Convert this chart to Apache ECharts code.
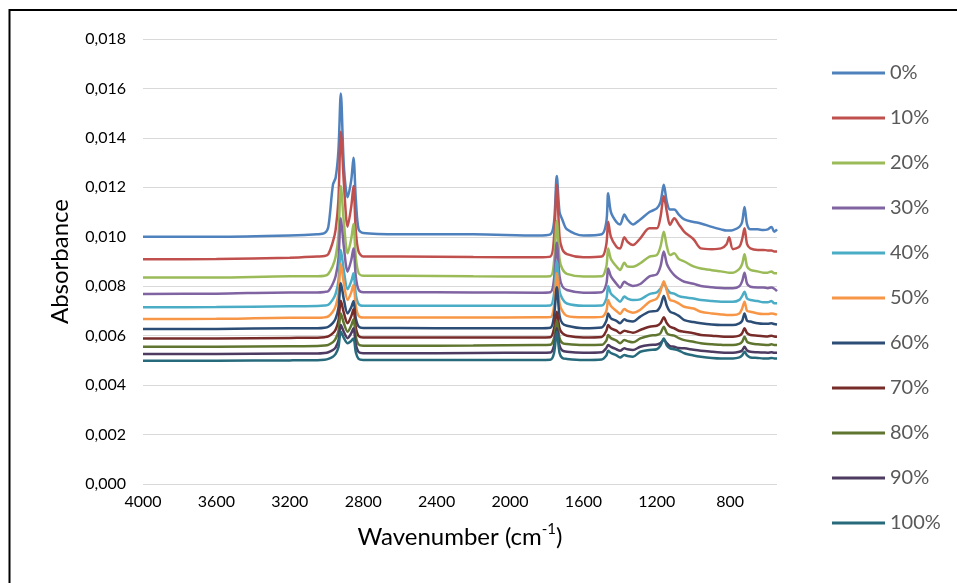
<!DOCTYPE html>
<html>
<head>
<meta charset="utf-8">
<script src="https://cdn.jsdelivr.net/npm/echarts@6/dist/echarts.min.js"></script>
<style>
html,body{margin:0;padding:0;background:#fff;}
#chart{width:957px;height:583px;}
</style>
</head>
<body>
<div id="chart"></div>
<script>
// Wavenumber grid (cm-1), shared by all spectra
var wavenumbers = [4000, 3600, 3200, 3050, 3010, 2990, 2965, 2950, 2935, 2922, 2905, 2885, 2865, 2853, 2840, 2825, 2800, 2600, 2200, 1850, 1780, 1760, 1745, 1730, 1715, 1690, 1600, 1500, 1475, 1465, 1450, 1420, 1400, 1377, 1360, 1330, 1290, 1240, 1200, 1180, 1162, 1145, 1128, 1105, 1080, 1050, 1000, 960, 900, 850, 820, 806, 785, 750, 735, 722, 708, 690, 650, 620, 595, 575, 560, 545];

var seriesNames = ['0%', '10%', '20%', '30%', '40%', '50%', '60%', '70%', '80%', '90%', '100%'];

var s0 = [0.01000, 0.01000, 0.01005, 0.0101, 0.01015, 0.0104, 0.0121, 0.0124, 0.0135, 0.0158, 0.0128, 0.0116, 0.0123, 0.0132, 0.0115, 0.0103, 0.01015, 0.0101, 0.0101, 0.01005, 0.0101, 0.0106, 0.01246, 0.0110, 0.0107, 0.0103, 0.01005, 0.0101, 0.0106, 0.01176, 0.0110, 0.0106, 0.0105, 0.0109, 0.0107, 0.0105, 0.0107, 0.0110, 0.01115, 0.0114, 0.0121, 0.0114, 0.0111, 0.0111, 0.0109, 0.0107, 0.0106, 0.01054, 0.0104, 0.0103, 0.01025, 0.01025, 0.01027, 0.0104, 0.0106, 0.0112, 0.0105, 0.0103, 0.0103, 0.01027, 0.0103, 0.0104, 0.0102, 0.0103];
var s10 = [0.00909, 0.00910, 0.00915, 0.0092, 0.00922, 0.0093, 0.0098, 0.0103, 0.0115, 0.01425, 0.01214, 0.01041, 0.01123, 0.01205, 0.0102, 0.0094, 0.0092, 0.0092, 0.00918, 0.00917, 0.0092, 0.0100, 0.0121, 0.0100, 0.0095, 0.0093, 0.00917, 0.0092, 0.0097, 0.01061, 0.0100, 0.0096, 0.00953, 0.00998, 0.0098, 0.00967, 0.00994, 0.01034, 0.01034, 0.0108, 0.01165, 0.0110, 0.01048, 0.01075, 0.0105, 0.0102, 0.0099, 0.00953, 0.0095, 0.00953, 0.0097, 0.00998, 0.0095, 0.0096, 0.0099, 0.01034, 0.0097, 0.00953, 0.00947, 0.00947, 0.00945, 0.00945, 0.0094, 0.0094];
var s20 = [0.00835, 0.00835, 0.0084, 0.0084, 0.00842, 0.0085, 0.00884, 0.0092, 0.01004, 0.01205, 0.01055, 0.00933, 0.00993, 0.01052, 0.00914, 0.00853, 0.00842, 0.00842, 0.0084, 0.00839, 0.0084, 0.0090, 0.01064, 0.0091, 0.0087, 0.0085, 0.00839, 0.0084, 0.0088, 0.00953, 0.0091, 0.0088, 0.00866, 0.00895, 0.0088, 0.00879, 0.00893, 0.0092, 0.00926, 0.0096, 0.0102, 0.0096, 0.00926, 0.00933, 0.0091, 0.0090, 0.0088, 0.00872, 0.00865, 0.0086, 0.00856, 0.00855, 0.00855, 0.0087, 0.0089, 0.00929, 0.0088, 0.00866, 0.0086, 0.00855, 0.00855, 0.0086, 0.00852, 0.00852];
var s30 = [0.00769, 0.0077, 0.00775, 0.00775, 0.00777, 0.0078, 0.00811, 0.00841, 0.0091, 0.01075, 0.00956, 0.00859, 0.00906, 0.00953, 0.00837, 0.00786, 0.00776, 0.00776, 0.00775, 0.00774, 0.00776, 0.0083, 0.00976, 0.0084, 0.0080, 0.00785, 0.00774, 0.00776, 0.0081, 0.00872, 0.0084, 0.0081, 0.00794, 0.00818, 0.0081, 0.00801, 0.00809, 0.0084, 0.00848, 0.0088, 0.0094, 0.0089, 0.00866, 0.00845, 0.0083, 0.00818, 0.0081, 0.00801, 0.00796, 0.00793, 0.00792, 0.00792, 0.00792, 0.0080, 0.0082, 0.00855, 0.0081, 0.00798, 0.00795, 0.00795, 0.00792, 0.00795, 0.0079, 0.0078];
var s40 = [0.00715, 0.00716, 0.00719, 0.0072, 0.00722, 0.00725, 0.00747, 0.0077, 0.00822, 0.00947, 0.0086, 0.00788, 0.0082, 0.00852, 0.00766, 0.00728, 0.00721, 0.00721, 0.00721, 0.00721, 0.00722, 0.0077, 0.0090, 0.0078, 0.0075, 0.0073, 0.00721, 0.00722, 0.0075, 0.00801, 0.0077, 0.0075, 0.00737, 0.00758, 0.0075, 0.00744, 0.00747, 0.00768, 0.00775, 0.0079, 0.0081, 0.0079, 0.00774, 0.0077, 0.0076, 0.00755, 0.0075, 0.00744, 0.0074, 0.00737, 0.00737, 0.00737, 0.00737, 0.00745, 0.0076, 0.00778, 0.0075, 0.00744, 0.0074, 0.00735, 0.00735, 0.0074, 0.00731, 0.00731];
var s50 = [0.00667, 0.00668, 0.00672, 0.00672, 0.00674, 0.00678, 0.00698, 0.0072, 0.0077, 0.0089, 0.0081, 0.00744, 0.00775, 0.00805, 0.00719, 0.0068, 0.00673, 0.00673, 0.00673, 0.00674, 0.00675, 0.0072, 0.00852, 0.0073, 0.0070, 0.0068, 0.00674, 0.00676, 0.0070, 0.00744, 0.0072, 0.0070, 0.00688, 0.00708, 0.0070, 0.00693, 0.00705, 0.00737, 0.0075, 0.0078, 0.0082, 0.0078, 0.00744, 0.0074, 0.0073, 0.00717, 0.0071, 0.00697, 0.0069, 0.00686, 0.00684, 0.00684, 0.00684, 0.0069, 0.0071, 0.00737, 0.0070, 0.00697, 0.0069, 0.00688, 0.00688, 0.0069, 0.00688, 0.00685];
var s60 = [0.00627, 0.00627, 0.0063, 0.0063, 0.00632, 0.00636, 0.00652, 0.0067, 0.00712, 0.00812, 0.00745, 0.0069, 0.00715, 0.0074, 0.00669, 0.00637, 0.00631, 0.00631, 0.0063, 0.0063, 0.00632, 0.0068, 0.00796, 0.0068, 0.0065, 0.0064, 0.0063, 0.00633, 0.0066, 0.0069, 0.0067, 0.0066, 0.0065, 0.00666, 0.0066, 0.00657, 0.00677, 0.00697, 0.007, 0.0072, 0.0076, 0.0072, 0.00697, 0.0069, 0.0068, 0.00663, 0.00655, 0.0065, 0.00645, 0.00643, 0.00643, 0.00643, 0.00643, 0.0065, 0.0066, 0.0069, 0.0066, 0.00657, 0.0065, 0.00648, 0.00648, 0.0065, 0.00647, 0.00645];
var s70 = [0.00589, 0.00589, 0.00591, 0.00592, 0.00594, 0.00597, 0.0061, 0.00625, 0.0066, 0.00741, 0.00691, 0.0065, 0.00679, 0.00707, 0.00632, 0.00599, 0.00593, 0.00593, 0.00593, 0.00593, 0.00594, 0.0063, 0.00697, 0.0063, 0.0061, 0.006, 0.00593, 0.00595, 0.0062, 0.00643, 0.0063, 0.0062, 0.0061, 0.0062, 0.00617, 0.00612, 0.00623, 0.00636, 0.0064, 0.0065, 0.00674, 0.0065, 0.00636, 0.0063, 0.0062, 0.00616, 0.0061, 0.00603, 0.006, 0.00597, 0.00596, 0.00596, 0.00596, 0.006, 0.0061, 0.0063, 0.0061, 0.00603, 0.006, 0.00598, 0.00597, 0.006, 0.00597, 0.00596];
var s80 = [0.00555, 0.00555, 0.00557, 0.00558, 0.0056, 0.00563, 0.00574, 0.00588, 0.00618, 0.0069, 0.00649, 0.00616, 0.00641, 0.00666, 0.00596, 0.00564, 0.00559, 0.00559, 0.0056, 0.00562, 0.00563, 0.0059, 0.0066, 0.0059, 0.0057, 0.00566, 0.00562, 0.00563, 0.0058, 0.00603, 0.0059, 0.0058, 0.00569, 0.00582, 0.00578, 0.00573, 0.00589, 0.006, 0.00603, 0.0061, 0.00636, 0.0061, 0.00603, 0.006, 0.0059, 0.00582, 0.00575, 0.00569, 0.00565, 0.00563, 0.00562, 0.00562, 0.00562, 0.00567, 0.00575, 0.00596, 0.00575, 0.00569, 0.00565, 0.00563, 0.00562, 0.00565, 0.00562, 0.00562];
var s90 = [0.00526, 0.00526, 0.00528, 0.00528, 0.0053, 0.00533, 0.00542, 0.00553, 0.0058, 0.00643, 0.00614, 0.0059, 0.0061, 0.0063, 0.00564, 0.00534, 0.00529, 0.00529, 0.0053, 0.00531, 0.00532, 0.0056, 0.0063, 0.0056, 0.0054, 0.00535, 0.00531, 0.00533, 0.0055, 0.00562, 0.00555, 0.00545, 0.00539, 0.00549, 0.00545, 0.00542, 0.00555, 0.00562, 0.00564, 0.0057, 0.00582, 0.0057, 0.00558, 0.00555, 0.0055, 0.00549, 0.00543, 0.00539, 0.00535, 0.00532, 0.00531, 0.00531, 0.00531, 0.00535, 0.0054, 0.00555, 0.0054, 0.00535, 0.00533, 0.00532, 0.00531, 0.00533, 0.00531, 0.00531];
var s100 = [0.00499, 0.00499, 0.005, 0.00501, 0.00503, 0.00506, 0.00515, 0.00526, 0.00553, 0.00616, 0.0059, 0.00569, 0.00579, 0.00589, 0.00532, 0.00506, 0.00502, 0.00502, 0.00502, 0.00502, 0.00503, 0.0053, 0.00616, 0.0053, 0.0051, 0.00506, 0.00502, 0.00504, 0.0052, 0.00539, 0.0053, 0.0052, 0.00512, 0.00522, 0.00518, 0.00515, 0.00535, 0.00542, 0.00545, 0.0056, 0.00589, 0.0056, 0.00549, 0.00545, 0.0054, 0.00529, 0.0052, 0.00515, 0.0051, 0.00508, 0.00508, 0.00508, 0.00508, 0.00512, 0.0052, 0.00535, 0.0052, 0.00512, 0.0051, 0.00508, 0.00508, 0.0051, 0.00508, 0.00508];

var xTickLabels = [4000, 3600, 3200, 2800, 2400, 2000, 1600, 1200, 800];

var allSeries = [s0, s10, s20, s30, s40, s50, s60, s70, s80, s90, s100];
var palette = ['#4F81BD', '#C0504D', '#9BBB59', '#8064A2', '#4BACC6', '#F79646', '#2C4D75', '#772C2A', '#5F7530', '#4D3B62', '#276A7C'];

var FONT = 'Lato';

var chart = echarts.init(document.getElementById('chart'), null, {renderer: 'canvas'});

var series = allSeries.map(function (vals, k) {
  return {
    name: seriesNames[k],
    type: 'line',
    data: wavenumbers.map(function (w, i) { return [w, vals[i]]; }),
    showSymbol: false,
    symbol: 'none',
    smooth: 0.3,
    lineStyle: {width: 2.5, color: palette[k]},
    itemStyle: {color: palette[k]},
    emphasis: {disabled: true},
    animation: false
  };
});

chart.setOption({
  animation: false,
  backgroundColor: '#ffffff',
  color: palette,
  grid: {left: 143, right: 180, top: 39, bottom: 99, containLabel: false},
  legend: {
    orient: 'vertical',
    left: 832,
    top: 62,
    padding: 0,
    icon: 'rect',
    itemWidth: 53,
    itemHeight: 3,
    itemGap: 23,
    textStyle: {fontFamily: FONT, fontSize: 20, color: '#595959', lineHeight: 22},
    data: seriesNames
  },
  xAxis: {
    type: 'value',
    inverse: true,
    min: 545,
    max: 4000,
    axisLine: {show: false},
    axisTick: {show: false},
    splitLine: {show: false},
    axisLabel: {
      customValues: xTickLabels,
      fontFamily: FONT, fontSize: 16, color: '#000', margin: 10,
      formatter: function (v) { return String(v); }
    },
    name: '{a|Wavenumber (cm}{b|-1}{a|)}',
    nameLocation: 'middle',
    nameGap: 38,
    nameTextStyle: {
      rich: {
        a: {fontFamily: FONT, fontSize: 24, color: '#000', lineHeight: 30},
        b: {fontFamily: FONT, fontSize: 15, color: '#000', lineHeight: 30, verticalAlign: 'top'}
      }
    }
  },
  yAxis: {
    type: 'value',
    min: 0,
    max: 0.018,
    interval: 0.002,
    axisLine: {show: false},
    axisTick: {show: false},
    splitLine: {show: true, lineStyle: {color: '#d9d9d9', width: 1}},
    axisLabel: {
      fontFamily: FONT, fontSize: 16, color: '#000', margin: 17,
      formatter: function (v) { return v.toFixed(3).replace('.', ','); }
    },
    name: 'Absorbance',
    nameLocation: 'middle',
    nameGap: 67,
    nameTextStyle: {fontFamily: FONT, fontSize: 24, color: '#000', lineHeight: 28}
  },
  graphic: [{
    type: 'polyline',
    silent: true,
    shape: {points: [[9.5, 583], [9.5, 10], [957, 10]]},
    style: {stroke: '#000', lineWidth: 2, fill: null}
  }],
  series: series
});
</script>
</body>
</html>
